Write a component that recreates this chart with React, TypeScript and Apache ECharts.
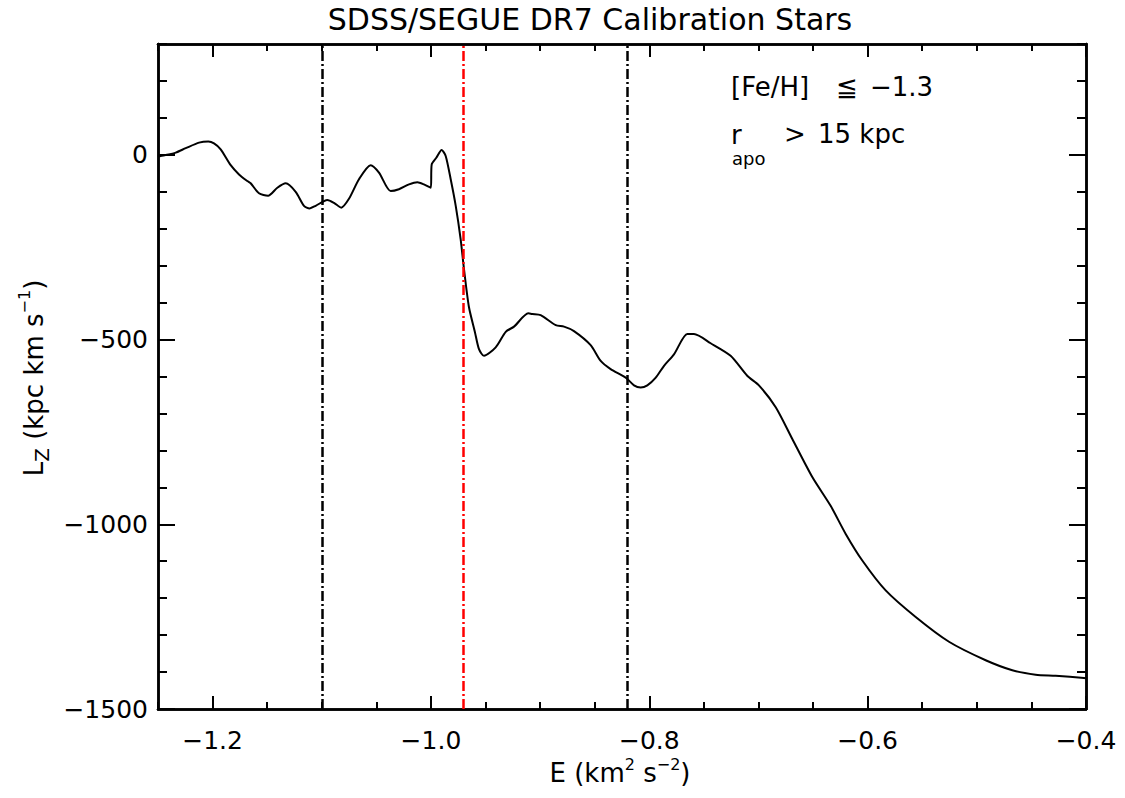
import React, { useEffect, useRef } from "react";
import * as echarts from "echarts";

// Energy E (km^2 s^-2) and angular momentum L_Z (kpc km s^-1)
const energy = [
  -1.25, -1.2475, -1.2418, -1.2338, -1.2246, -1.2124, -1.2039, -1.1987, -1.1926, -1.1834,
  -1.1758, -1.1682, -1.1651, -1.1575, -1.1492, -1.1407, -1.133, -1.1239, -1.1163, -1.1111,
  -1.1056, -1.0949, -1.0888, -1.0822, -1.0751, -1.0659, -1.0552, -1.0476, -1.0369, -1.0293,
  -1.0201, -1.0125, -1.0064, -1.0002, -0.9993, -0.9951, -0.9902, -0.9865, -0.9819, -0.9773,
  -0.9728, -0.9697, -0.9652, -0.9597, -0.956, -0.9514, -0.9407, -0.9315, -0.9239, -0.9108,
  -0.9072, -0.8995, -0.8857, -0.8781, -0.869, -0.8537, -0.8445, -0.8354, -0.8216, -0.814,
  -0.8079, -0.8018, -0.7941, -0.7865, -0.7774, -0.7652, -0.7591, -0.7438, -0.7255, -0.7103,
  -0.6996, -0.6842, -0.669, -0.6507, -0.6339, -0.6201, -0.6049, -0.5835, -0.556, -0.5255,
  -0.4919, -0.4675, -0.4461, -0.4278, -0.4019, -0.4,
];
const lz = [
  -5, -3, 0, 6, 18, 33, 36, 31, 15, -28,
  -53, -71, -77, -104, -111, -89, -77, -100, -138, -145,
  -138, -122, -130, -143, -119, -66, -28, -48, -98, -93,
  -80, -74, -80, -89, -26, -8, 13, -3, -66, -138,
  -228, -310, -412, -480, -526, -544, -521, -479, -465, -429,
  -431, -434, -461, -465, -477, -515, -558, -580, -603, -624,
  -630, -624, -603, -571, -540, -485, -485, -510, -544, -598,
  -624, -683, -769, -872, -950, -1026, -1098, -1179, -1251, -1318,
  -1368, -1395, -1407, -1410, -1416, -1417,
];

// Vertical dash-dot reference lines
const blackLines = [-1.1, -0.82];
const redLines = [-0.97];

// Axis ticks
const xMajorTicks = [-1.2, -1.0, -0.8, -0.6, -0.4];
const xMinorTicks = [
  -1.25, -1.2, -1.15, -1.1, -1.05, -1.0, -0.95, -0.9, -0.85, -0.8,
  -0.75, -0.7, -0.65, -0.6, -0.55, -0.5, -0.45, -0.4,
];
const yMajorTicks = [-1500, -1000, -500, 0];
const yMinorTicks = [
  -1500, -1400, -1300, -1200, -1100, -1000, -900, -800, -700, -600,
  -500, -400, -300, -200, -100, 0, 100, 200, 300,
];

const X_MIN = -1.25;
const X_MAX = -0.4;
const Y_MIN = -1500;
const Y_MAX = 300;

const FONT = "DejaVu Sans";
const MINUS = "\u2212";

const fmtX = (v: number) => (v < 0 ? MINUS : "") + Math.abs(v).toFixed(1);
const fmtY = (v: number) => (v < 0 ? MINUS : "") + Math.abs(Math.round(v));

export default function App() {
  const ref = useRef<HTMLDivElement>(null);

  useEffect(() => {
    if (!ref.current) return;
    const chart = echarts.init(ref.current, null, { renderer: "svg" });

    const axisLine = { show: true, onZero: false, lineStyle: { color: "#000", width: 2.5 } };

    const xAxisBase = (position: "bottom" | "top", major: boolean, labels: boolean) => ({
      type: "value",
      position,
      min: X_MIN,
      max: X_MAX,
      axisLine,
      splitLine: { show: false },
      axisTick: {
        show: true,
        inside: true,
        length: major ? 13 : 7,
        lineStyle: { color: "#000", width: 2 },
        customValues: major ? xMajorTicks : xMinorTicks,
      },
      axisLabel: labels
        ? {
            show: true,
            customValues: xMajorTicks,
            formatter: fmtX,
            color: "#000",
            fontSize: 25,
            fontFamily: FONT,
            margin: 19,
          }
        : { show: false },
    });

    const yAxisBase = (position: "left" | "right", major: boolean, labels: boolean) => ({
      type: "value",
      position,
      min: Y_MIN,
      max: Y_MAX,
      axisLine,
      splitLine: { show: false },
      axisTick: {
        show: true,
        inside: true,
        length: major ? 17 : 9,
        lineStyle: { color: "#000", width: 2 },
        customValues: major ? yMajorTicks : yMinorTicks,
      },
      axisLabel: labels
        ? {
            show: true,
            customValues: yMajorTicks,
            formatter: fmtY,
            color: "#000",
            fontSize: 25,
            fontFamily: FONT,
            margin: 10,
          }
        : { show: false },
    });

    const data = energy.map((e, i) => [e, lz[i]]);

    const lineStyleDash = { type: [10, 3, 2, 3], width: 2.5 };

    const option: any = {
      animation: false,
      backgroundColor: "#fff",
      grid: { left: 158, right: 39, top: 44, bottom: 89, containLabel: false },
      xAxis: [
        xAxisBase("bottom", true, true),
        xAxisBase("bottom", false, false),
        xAxisBase("top", true, false),
        xAxisBase("top", false, false),
      ],
      yAxis: [
        yAxisBase("left", true, true),
        yAxisBase("left", false, false),
        yAxisBase("right", true, false),
        yAxisBase("right", false, false),
      ],
      series: [
        {
          type: "line",
          xAxisIndex: 0,
          yAxisIndex: 0,
          data,
          showSymbol: false,
          symbol: "none",
          smooth: 0.25,
          lineStyle: { color: "#000", width: 2 },
          silent: true,
          markLine: {
            silent: true,
            symbol: ["none", "none"],
            label: { show: false },
            emphasis: { disabled: true },
            data: [
              ...blackLines.map((v) => ({ xAxis: v, lineStyle: { ...lineStyleDash, color: "#000" } })),
              ...redLines.map((v) => ({ xAxis: v, lineStyle: { ...lineStyleDash, color: "#ff0000" } })),
            ],
          },
        },
      ],
      graphic: [
        {
          type: "text",
          x: 590,
          y: 19,
          style: {
            text: "SDSS/SEGUE DR7 Calibration Stars",
            font: `30px "${FONT}"`,
            fill: "#000",
            align: "center",
            verticalAlign: "middle",
          },
        },
        {
          type: "text",
          x: 620,
          y: 771,
          style: {
            text: "{m|E (km}{s|2}{m| s}{s|" + MINUS + "2}{m|)}",
            align: "center",
            verticalAlign: "middle",
            fill: "#000",
            rich: {
              m: { fontSize: 26, fontFamily: FONT, lineHeight: 30, verticalAlign: "bottom", fill: "#000" },
              s: { fontSize: 16, fontFamily: FONT, lineHeight: 16, verticalAlign: "top", fill: "#000" },
            },
          },
        },
        {
          type: "text",
          x: 34,
          y: 378,
          rotation: Math.PI / 2,
          style: {
            text: "{m|L}{b|Z}{m| (kpc km s}{p|" + MINUS + "1}{m|)}",
            align: "center",
            verticalAlign: "middle",
            fill: "#000",
            rich: {
              m: { fontSize: 26, fontFamily: FONT, lineHeight: 36, verticalAlign: "middle", fill: "#000" },
              b: { fontSize: 20, fontFamily: FONT, lineHeight: 20, verticalAlign: "bottom", fill: "#000" },
              p: { fontSize: 16, fontFamily: FONT, lineHeight: 16, verticalAlign: "top", fill: "#000" },
            },
          },
        },
        // annotation 1
        {
          type: "text",
          x: 731,
          y: 87,
          style: { text: "[Fe/H]", font: `26px "${FONT}"`, fill: "#000", align: "left", verticalAlign: "middle" },
        },
        {
          type: "text",
          x: 836,
          y: 87,
          style: { text: "\u2266", font: `26px "${FONT}"`, fill: "#000", align: "left", verticalAlign: "middle" },
        },
        {
          type: "text",
          x: 870,
          y: 87,
          style: { text: MINUS + "1.3", font: `26px "${FONT}"`, fill: "#000", align: "left", verticalAlign: "middle" },
        },
        // annotation 2
        {
          type: "text",
          x: 731,
          y: 135,
          style: { text: "r", font: `26px "${FONT}"`, fill: "#000", align: "left", verticalAlign: "middle" },
        },
        {
          type: "text",
          x: 732,
          y: 158,
          style: { text: "apo", font: `18px "${FONT}"`, fill: "#000", align: "left", verticalAlign: "middle" },
        },
        {
          type: "text",
          x: 784,
          y: 134,
          style: { text: ">", font: `26px "${FONT}"`, fill: "#000", align: "left", verticalAlign: "middle" },
        },
        {
          type: "text",
          x: 818,
          y: 134,
          style: { text: "15 kpc", font: `26px "${FONT}"`, fill: "#000", align: "left", verticalAlign: "middle" },
        },
      ],
    };

    chart.setOption(option);
    return () => chart.dispose();
  }, []);

  return (
    <div
      ref={ref}
      style={{ position: "fixed", left: 0, top: 0, width: 1125, height: 798, background: "#fff" }}
    />
  );
}
